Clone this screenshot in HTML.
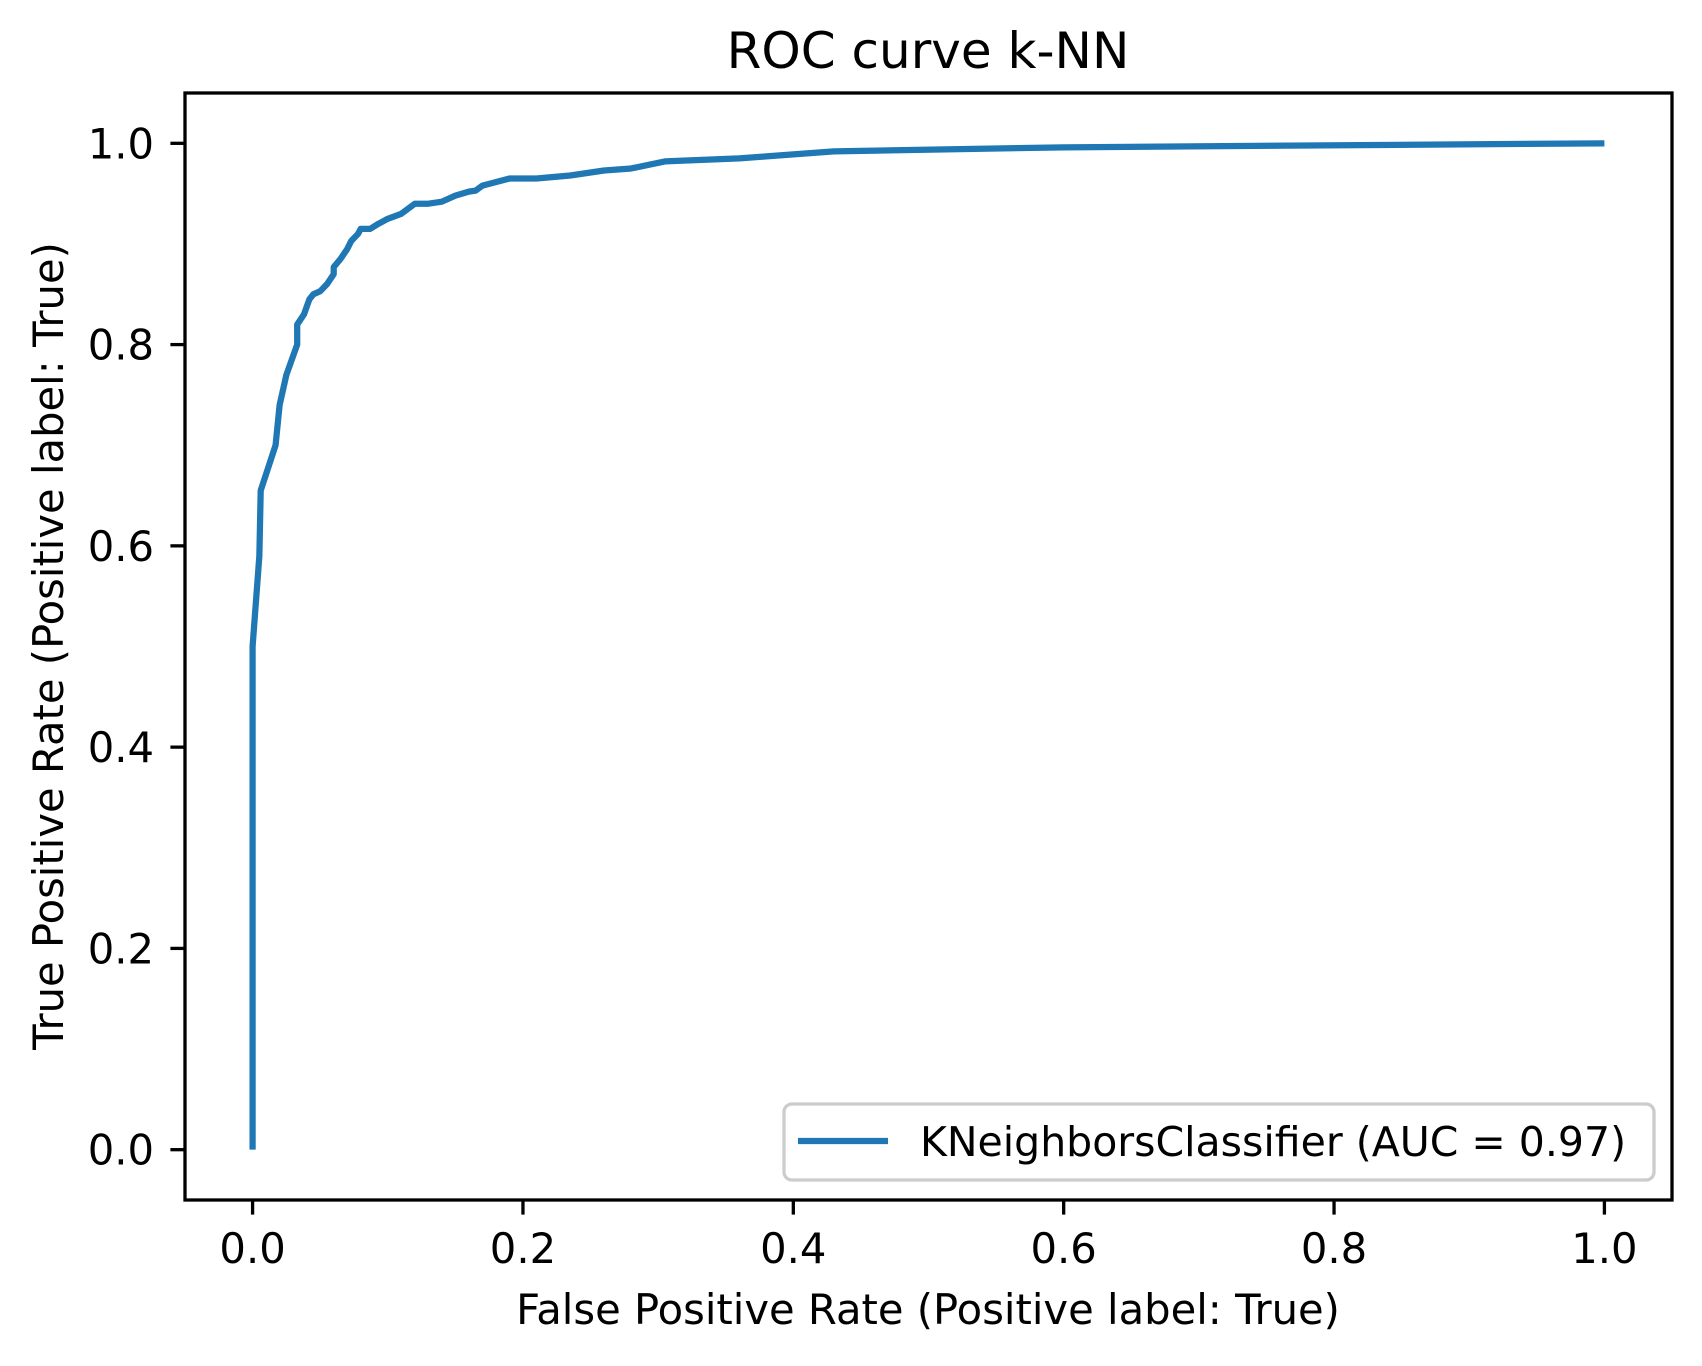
<!DOCTYPE html>
<html><head><meta charset="utf-8"><style>
html,body{margin:0;padding:0;background:#fff;}
svg text{font-family:"DejaVu Sans","Liberation Sans",sans-serif;fill:#000;}
</style></head><body>
<svg id="chart" width="1702" height="1361" viewBox="0 0 1702 1361" xmlns="http://www.w3.org/2000/svg">
<rect width="1702" height="1361" fill="#fff"/>
<text x="928" y="68" font-size="50" text-anchor="middle">ROC curve k-NN</text>
<g id="axes"></g>
<text x="928" y="1324" font-size="41.7" text-anchor="middle">False Positive Rate (Positive label: True)</text>
<text transform="translate(63,646) rotate(-90)" font-size="41.7" text-anchor="middle">True Positive Rate (Positive label: True)</text>
<g>
<rect x="784" y="1104" width="870" height="76" rx="8" fill="#fff" stroke="#ccc" stroke-width="3.3"/>
<line x1="798" y1="1141" x2="888" y2="1141" stroke="#1f77b4" stroke-width="6.25"/>
<text x="920" y="1156" font-size="41">KNeighborsClassifier (AUC = 0.97)</text>
</g>
</svg>
<script>
const fpr = [0,0,0.005,0.006,0.017,0.02,0.025,0.033,0.033,0.038,0.042,0.045,0.05,0.055,0.06,0.06,0.065,0.07,0.073,0.078,0.08,0.087,0.093,0.1,0.11,0.115,0.12,0.13,0.14,0.15,0.16,0.165,0.17,0.19,0.21,0.235,0.26,0.28,0.305,0.36,0.38,0.43,0.6,1];
const tpr = [0,0.5,0.59,0.655,0.70,0.74,0.77,0.80,0.82,0.83,0.845,0.85,0.853,0.86,0.87,0.877,0.885,0.895,0.903,0.91,0.915,0.915,0.92,0.925,0.93,0.935,0.94,0.94,0.942,0.948,0.952,0.953,0.958,0.965,0.965,0.968,0.973,0.975,0.982,0.985,0.987,0.992,0.996,1];
const xTicks = [0,0.2,0.4,0.6,0.8,1.0];
const yTicks = [0,0.2,0.4,0.6,0.8,1.0];
const tickLabels = ["0.0","0.2","0.4","0.6","0.8","1.0"];

const L=185,R=1672,T=93,B=1200;
const xs=v=>L+(v+0.05)/1.1*(R-L);
const ys=v=>B-(v+0.05)/1.1*(B-T);
const NS="http://www.w3.org/2000/svg";
const g=document.getElementById('axes');
function mk(tag,attrs){const e=document.createElementNS(NS,tag);for(const k in attrs)e.setAttribute(k,attrs[k]);g.appendChild(e);return e;}

const path=mk('path',{d:fpr.map((f,i)=>(i?'L':'M')+xs(f).toFixed(2)+','+ys(tpr[i]).toFixed(2)).join(''),fill:'none',stroke:'#1f77b4','stroke-width':6.25,'stroke-linejoin':'round'});



xTicks.forEach((v,i)=>{
  const t=mk('line',{x1:xs(v),x2:xs(v),y1:B,y2:B+14.6,stroke:'#000','stroke-width':3.3});
  
  
  const l=mk('text',{x:xs(v),y:B+63,'font-size':41.7,'text-anchor':'middle'});
  l.textContent=tickLabels[i];
  
  
});
yTicks.forEach((v,i)=>{
  const t=mk('line',{x1:L-14.6,x2:L,y1:ys(v),y2:ys(v),stroke:'#000','stroke-width':3.3});
  
  
  const l=mk('text',{x:L-31,y:ys(v)+15,'font-size':41.7,'text-anchor':'end'});
  l.textContent=tickLabels[i];
  
  
});
const frame=mk('rect',{x:L,y:T,width:R-L,height:B-T,fill:'none',stroke:'#000','stroke-width':3.3});


</script>
</body></html>
